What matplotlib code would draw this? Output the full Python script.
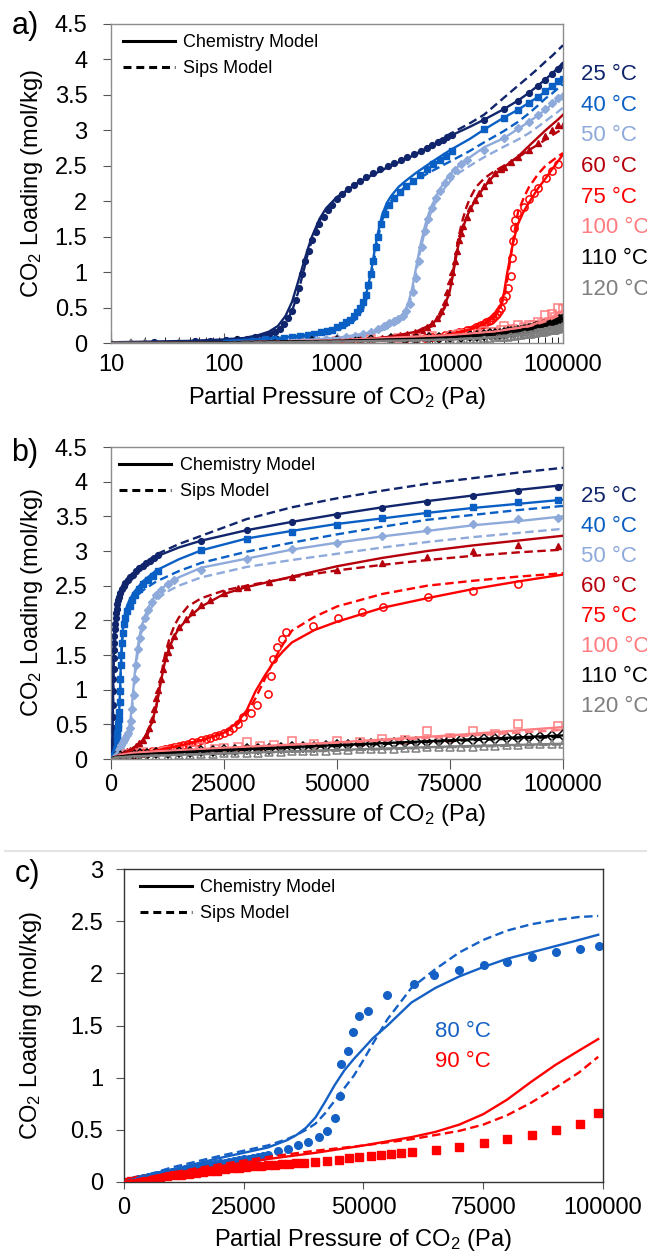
import matplotlib
matplotlib.use("Agg")
import matplotlib.pyplot as plt
from matplotlib.lines import Line2D
from matplotlib.ticker import FixedLocator, FuncFormatter, LogLocator, NullFormatter

plt.rcParams['font.family'] = ['Liberation Sans', 'DejaVu Sans']
plt.rcParams['mathtext.default'] = 'regular'

# ---------------- Panels a/b data (CO2 isotherms) ----------------
temps_ab = ['25 °C', '40 °C', '50 °C', '60 °C', '75 °C', '100 °C', '110 °C', '120 °C']
colors_ab = ['#10256b', '#0a5fc4', '#8eaadb', '#b5000c', '#ff0000', '#ff7c80', '#000000', '#7f7f7f']

# 25 C
p25 = [24, 55, 75, 105, 130, 160, 190, 220, 250, 280, 310, 340, 370, 400, 430, 460, 490, 520, 560, 600,
       650, 700, 760, 830, 900, 1000, 1100, 1250, 1400, 1600, 1800, 2100, 2400, 2800, 3200, 3700, 4200,
       4800, 5500, 6200, 7000, 7800, 8600, 9500, 10500, 20000, 30000, 40000, 50000, 60000, 70000, 80000,
       90000, 99000]
q25 = [0.02, 0.03, 0.03, 0.04, 0.05, 0.06, 0.08, 0.1, 0.12, 0.15, 0.2, 0.27, 0.35, 0.45, 0.6, 0.78, 0.98,
       1.15, 1.3, 1.45, 1.57, 1.68, 1.78, 1.87, 1.95, 2.03, 2.1, 2.17, 2.23, 2.29, 2.34, 2.4, 2.45, 2.5,
       2.54, 2.58, 2.62, 2.66, 2.71, 2.75, 2.79, 2.83, 2.86, 2.9, 2.94, 3.15, 3.3, 3.42, 3.52, 3.62, 3.71,
       3.79, 3.87, 3.92]
cp25 = [10, 50, 100, 150, 200, 250, 300, 350, 400, 450, 500, 550, 600, 700, 800, 1000, 1500, 2000, 3000,
        5000, 7000, 10000, 15000, 20000, 30000, 40000, 50000, 60000, 70000, 80000, 90000, 100000]
chem25 = [0.01, 0.03, 0.05, 0.07, 0.11, 0.16, 0.24, 0.38, 0.58, 0.85, 1.1, 1.32, 1.5, 1.75, 1.9, 2.06,
          2.25, 2.36, 2.5, 2.66, 2.78, 2.92, 3.05, 3.15, 3.3, 3.42, 3.53, 3.63, 3.72, 3.8, 3.88, 3.95]
sips25 = [0.0, 0.02, 0.04, 0.06, 0.09, 0.13, 0.19, 0.28, 0.45, 0.7, 0.98, 1.25, 1.45, 1.72, 1.88, 2.05,
          2.25, 2.37, 2.5, 2.67, 2.8, 2.95, 3.1, 3.22, 3.46, 3.63, 3.76, 3.87, 3.97, 4.05, 4.13, 4.2]

# 40 C
p40 = [110, 140, 180, 230, 280, 340, 400, 470, 550, 630, 720, 810, 900, 1000, 1100, 1200, 1300, 1400,
       1500, 1600, 1700, 1800, 1900, 2000, 2100, 2200, 2300, 2450, 2650, 2900, 3200, 3600, 4100, 4700,
       5400, 6200, 7100, 8100, 9200, 10500, 20000, 30000, 40000, 50000, 60000, 70000, 80000, 90000, 99000]
q40 = [0.03, 0.03, 0.04, 0.05, 0.06, 0.07, 0.08, 0.1, 0.11, 0.13, 0.15, 0.17, 0.19, 0.22, 0.25, 0.29,
       0.33, 0.38, 0.44, 0.5, 0.58, 0.68, 0.82, 0.98, 1.15, 1.35, 1.5, 1.68, 1.82, 1.94, 2.04, 2.13, 2.21,
       2.29, 2.37, 2.45, 2.52, 2.58, 2.64, 2.71, 3.02, 3.18, 3.28, 3.38, 3.47, 3.55, 3.63, 3.7, 3.73]
cp40 = [100, 300, 500, 800, 1000, 1300, 1500, 1700, 1850, 2000, 2150, 2300, 2500, 2750, 3000, 3500, 4000,
        5000, 7000, 10000, 15000, 20000, 30000, 40000, 50000, 60000, 70000, 80000, 90000, 100000]
chem40 = [0.03, 0.07, 0.11, 0.17, 0.22, 0.3, 0.4, 0.55, 0.75, 1.0, 1.3, 1.55, 1.8, 1.97, 2.07, 2.2, 2.28,
          2.4, 2.56, 2.72, 2.88, 3.01, 3.18, 3.29, 3.39, 3.47, 3.55, 3.62, 3.68, 3.74]
sips40 = [0.02, 0.05, 0.09, 0.14, 0.18, 0.26, 0.35, 0.48, 0.65, 0.9, 1.2, 1.48, 1.72, 1.9, 2.0, 2.12, 2.2,
          2.3, 2.43, 2.56, 2.71, 2.83, 2.99, 3.12, 3.24, 3.35, 3.45, 3.52, 3.59, 3.65]

# 50 C
p50 = [300, 400, 500, 650, 800, 1000, 1200, 1450, 1700, 2000, 2300, 2600, 2900, 3200, 3500, 3800, 4100,
       4400, 4700, 5000, 5300, 5600, 6000, 6400, 6900, 7500, 8200, 9000, 10000, 11000, 12500, 14000,
       20000, 30000, 40000, 50000, 60000, 70000, 80000, 90000, 99000]
q50 = [0.02, 0.03, 0.03, 0.04, 0.05, 0.07, 0.08, 0.1, 0.13, 0.16, 0.2, 0.24, 0.28, 0.31, 0.34, 0.38, 0.45,
       0.55, 0.72, 0.92, 1.15, 1.35, 1.58, 1.75, 1.9, 2.04, 2.15, 2.26, 2.36, 2.44, 2.52, 2.58, 2.72, 2.89,
       3.03, 3.12, 3.22, 3.3, 3.39, 3.46, 3.48]
cp50 = [300, 1000, 2000, 3000, 3500, 4000, 4300, 4600, 4900, 5200, 5500, 6000, 6500, 7000, 8000, 9000,
        10000, 12000, 15000, 20000, 30000, 40000, 50000, 60000, 70000, 80000, 90000, 100000]
chem50 = [0.02, 0.07, 0.15, 0.25, 0.33, 0.45, 0.58, 0.75, 0.98, 1.2, 1.4, 1.65, 1.83, 1.96, 2.15, 2.28,
          2.38, 2.5, 2.62, 2.76, 2.89, 3.02, 3.12, 3.21, 3.29, 3.37, 3.43, 3.5]
sips50 = [0.02, 0.06, 0.13, 0.22, 0.29, 0.4, 0.52, 0.68, 0.9, 1.12, 1.33, 1.58, 1.76, 1.9, 2.07, 2.19,
          2.28, 2.4, 2.5, 2.62, 2.77, 2.87, 2.96, 3.05, 3.13, 3.2, 3.26, 3.32]

# 60 C
p60 = [600, 800, 1000, 1300, 1600, 2000, 2500, 3000, 3600, 4200, 4900, 5600, 6300, 7000, 7700, 8400, 9000,
       9500, 10000, 10500, 11000, 11500, 12000, 12500, 13000, 14000, 15000, 16500, 18000, 20000, 22000,
       25000, 28000, 30000, 35000, 40000, 50000, 60000, 70000, 80000, 90000, 99000]
q60 = [0.02, 0.03, 0.03, 0.04, 0.05, 0.06, 0.07, 0.09, 0.11, 0.13, 0.15, 0.19, 0.23, 0.28, 0.35, 0.45,
       0.58, 0.72, 0.88, 1.0, 1.15, 1.3, 1.45, 1.55, 1.65, 1.78, 1.9, 2.02, 2.12, 2.22, 2.3, 2.4, 2.46,
       2.48, 2.56, 2.62, 2.72, 2.82, 2.92, 3.0, 3.08, 3.07]
cp60 = [1000, 2000, 3000, 5000, 7000, 8000, 9000, 10000, 10500, 11000, 11500, 12000, 13000, 14000, 15000,
        17000, 20000, 25000, 30000, 40000, 50000, 60000, 70000, 80000, 90000, 100000]
chem60 = [0.03, 0.06, 0.09, 0.16, 0.27, 0.37, 0.52, 0.75, 0.92, 1.1, 1.27, 1.42, 1.62, 1.77, 1.88, 2.03,
          2.2, 2.38, 2.48, 2.63, 2.78, 2.9, 3.0, 3.08, 3.15, 3.22]
sips60 = [0.02, 0.05, 0.08, 0.14, 0.24, 0.34, 0.5, 0.75, 0.95, 1.15, 1.35, 1.52, 1.75, 1.92, 2.04, 2.2,
          2.32, 2.43, 2.5, 2.62, 2.72, 2.8, 2.87, 2.93, 2.98, 3.02]

# 75 C
p75 = [1000, 2000, 3000, 4000, 5000, 6000, 7000, 8000, 9000, 10000, 11000, 12000, 13000, 14000, 15000,
       16000, 17000, 18000, 19000, 20000, 21000, 22000, 23000, 24000, 25000, 26000, 27000, 28000, 29300,
       31000, 32300, 34800, 35300, 35800, 36800, 37800, 38800, 44800, 50300, 55500, 60200, 70100, 80100,
       90100]
q75 = [0.02, 0.03, 0.04, 0.05, 0.06, 0.07, 0.08, 0.09, 0.11, 0.12, 0.13, 0.15, 0.16, 0.18, 0.19, 0.2,
       0.22, 0.24, 0.25, 0.27, 0.29, 0.31, 0.33, 0.35, 0.38, 0.41, 0.45, 0.5, 0.6, 0.66, 0.78, 0.94, 1.2,
       1.44, 1.62, 1.73, 1.83, 1.92, 2.03, 2.12, 2.19, 2.33, 2.43, 2.52]
cp75 = [100, 1000, 3000, 5000, 10000, 15000, 20000, 25000, 28000, 30000, 32000, 34000, 36000, 38000,
        40000, 45000, 50000, 60000, 70000, 80000, 90000, 100000]
chem75 = [0.0, 0.02, 0.04, 0.06, 0.12, 0.19, 0.27, 0.38, 0.53, 0.7, 0.98, 1.2, 1.4, 1.55, 1.68, 1.86,
          1.98, 2.18, 2.32, 2.45, 2.56, 2.66]
sips75 = [0.0, 0.02, 0.04, 0.06, 0.12, 0.19, 0.27, 0.37, 0.5, 0.65, 0.88, 1.15, 1.42, 1.65, 1.85, 2.05,
          2.2, 2.38, 2.5, 2.57, 2.63, 2.68]

# 100 C
p100 = [1000, 2000, 3500, 5000, 7000, 10000, 12000, 15000, 18000, 20000, 23000, 25000, 28000, 30000,
        33000, 36000, 40000, 45000, 50000, 55000, 60000, 65000, 70000, 75000, 80000, 85000, 90000, 99000]
q100 = [0.03, 0.05, 0.07, 0.08, 0.1, 0.1, 0.12, 0.14, 0.13, 0.17, 0.15, 0.16, 0.18, 0.24, 0.19, 0.2, 0.26,
        0.22, 0.26, 0.25, 0.29, 0.27, 0.4, 0.3, 0.41, 0.36, 0.5, 0.48]
cp100 = [10, 100, 1000, 2000, 5000, 10000, 25000, 50000, 75000, 100000]
chem100 = [0.0, 0.01, 0.04, 0.06, 0.09, 0.11, 0.16, 0.24, 0.34, 0.46]
sips100 = [0.0, 0.01, 0.03, 0.05, 0.08, 0.1, 0.15, 0.23, 0.32, 0.42]

# 110 C
p110 = [130, 300, 600, 1000, 1500, 2000, 3000, 4000, 5000, 6500, 8000,
        10000, 12500, 15000, 17500, 20000, 22500, 25000, 27500, 30000, 32500, 35000, 37500, 40000,
        42500, 45000, 47500, 50000, 52500, 55000, 57500, 60000, 62500, 65000, 67500, 70000, 72500,
        75000, 77500, 80000, 82500, 85000, 87500, 90000, 92500, 95000, 97500, 100000]
q110 = [0.01, 0.01, 0.02, 0.03, 0.03, 0.04, 0.05, 0.05, 0.06, 0.07, 0.07,
        0.08, 0.09, 0.1, 0.1, 0.11, 0.12, 0.13, 0.13, 0.14, 0.15, 0.15, 0.16, 0.17,
        0.17, 0.18, 0.19, 0.2, 0.2, 0.21, 0.22, 0.22, 0.23, 0.24, 0.25, 0.25, 0.26,
        0.27, 0.27, 0.28, 0.29, 0.29, 0.3, 0.31, 0.32, 0.32, 0.33, 0.34]
cp110 = [10, 100, 1000, 5000, 10000, 25000, 50000, 75000, 100000]
chem110 = [0.0, 0.01, 0.03, 0.06, 0.08, 0.13, 0.2, 0.27, 0.34]
sips110 = [0.0, 0.01, 0.03, 0.05, 0.07, 0.12, 0.19, 0.26, 0.32]

# 120 C
p120 = [10, 15, 20, 40, 70, 150, 300, 500, 800, 1200, 2000, 3000, 5000, 7000,
        10000, 12500, 15000, 17500, 20000, 22500, 25000, 27500, 30000, 32500, 35000, 37500, 40000,
        42500, 45000, 47500, 50000, 52500, 55000, 57500, 60000, 62500, 65000, 67500, 70000, 72500,
        75000, 77500, 80000, 82500, 85000, 87500, 90000, 92500, 95000, 97500, 100000]
q120 = [0.0, 0.0, 0.0, 0.0, 0.0, 0.01, 0.01, 0.01, 0.02, 0.02, 0.03, 0.03, 0.04, 0.04,
        0.05, 0.05, 0.06, 0.06, 0.07, 0.07, 0.08, 0.08, 0.09, 0.09, 0.1, 0.1, 0.11,
        0.11, 0.12, 0.12, 0.13, 0.13, 0.14, 0.14, 0.15, 0.15, 0.16, 0.16, 0.17, 0.17,
        0.18, 0.18, 0.18, 0.19, 0.19, 0.2, 0.2, 0.21, 0.21, 0.22, 0.22]
cp120 = [10, 100, 1000, 5000, 10000, 25000, 50000, 75000, 100000]
chem120 = [0.0, 0.0, 0.02, 0.04, 0.05, 0.08, 0.13, 0.18, 0.22]
sips120 = [0.0, 0.0, 0.02, 0.03, 0.05, 0.08, 0.12, 0.17, 0.21]

# ---------------- Panel c data ----------------
temps_c = ['80 °C', '90 °C']
colors_c = ['#1460c4', '#ff0000']
p80 = [0, 1000, 2000, 3000, 4000, 5000, 6000, 7000, 8000, 9000, 10000, 11000, 12000, 13000, 14000, 15000,
       16000, 17000, 18000, 19000, 20000, 21000, 22000, 23000, 24000, 25000, 26000, 27000, 28000, 29000,
       30000, 32100, 34200, 36400, 38500, 40700, 42400, 44100, 45000, 45300, 46700, 47800, 49000, 51000,
       55000, 60500, 64800, 70000, 75200, 79900, 85100, 90100, 95300, 99100]
q80 = [0.0, 0.01, 0.02, 0.03, 0.04, 0.05, 0.06, 0.07, 0.08, 0.09, 0.1, 0.1, 0.11, 0.12, 0.13, 0.14, 0.15,
       0.15, 0.16, 0.17, 0.18, 0.18, 0.19, 0.2, 0.21, 0.22, 0.22, 0.23, 0.24, 0.25, 0.26, 0.295, 0.32,
       0.35, 0.385, 0.43, 0.49, 0.61, 0.82, 1.13, 1.26, 1.44, 1.59, 1.64, 1.79, 1.9, 1.98, 2.03, 2.08,
       2.11, 2.16, 2.2, 2.23, 2.26]
cp80 = [0, 10000, 20000, 30000, 34000, 36000, 38000, 40000, 42000, 44000, 46000, 48000, 50000, 52000,
        55000, 60000, 65000, 70000, 75000, 80000, 85000, 90000, 95000, 99000]
chem80 = [0.0, 0.12, 0.23, 0.33, 0.4, 0.45, 0.52, 0.62, 0.77, 0.93, 1.07, 1.18, 1.28, 1.38, 1.5, 1.72,
          1.86, 1.97, 2.06, 2.14, 2.2, 2.26, 2.32, 2.37]
sips80 = [0.0, 0.14, 0.25, 0.35, 0.41, 0.45, 0.5, 0.56, 0.66, 0.78, 0.9, 1.02, 1.17, 1.33, 1.56, 1.86,
          2.04, 2.2, 2.32, 2.41, 2.47, 2.51, 2.54, 2.55]
p90 = [0, 1500, 3000, 4500, 6000, 7500, 9000, 10500, 12000, 13500, 15000, 16500, 18000, 19500, 21000,
       22500, 24000, 25500, 27000, 28500, 30000, 31500, 33000, 34500, 36000, 37500, 39800, 42400, 44800,
       47000, 49100, 51500, 53600, 55800, 57900, 60200, 65100, 70000, 75200, 80000, 85200, 90100, 95100,
       98900]
q90 = [0.0, 0.01, 0.02, 0.03, 0.04, 0.05, 0.055, 0.065, 0.07, 0.08, 0.09, 0.095, 0.105, 0.11, 0.12, 0.13,
       0.135, 0.14, 0.15, 0.155, 0.16, 0.165, 0.17, 0.175, 0.18, 0.185, 0.19, 0.2, 0.215, 0.23, 0.24,
       0.25, 0.26, 0.27, 0.28, 0.29, 0.31, 0.34, 0.375, 0.41, 0.45, 0.5, 0.555, 0.66]
cp90 = [0, 10000, 20000, 30000, 40000, 50000, 55000, 60000, 65000, 70000, 75000, 80000, 85000, 90000,
        95000, 99000]
chem90 = [0.0, 0.08, 0.15, 0.22, 0.28, 0.35, 0.39, 0.43, 0.48, 0.55, 0.65, 0.79, 0.96, 1.12, 1.26, 1.37]
sips90 = [0.0, 0.09, 0.17, 0.24, 0.3, 0.35, 0.38, 0.41, 0.45, 0.49, 0.55, 0.64, 0.76, 0.9, 1.05, 1.2]

# ---------------- assemble ----------------
series_ab = [
    (p25, q25, cp25, chem25, sips25, 'o', True),
    (p40, q40, cp40, chem40, sips40, 's', True),
    (p50, q50, cp50, chem50, sips50, 'D', True),
    (p60, q60, cp60, chem60, sips60, '^', True),
    (p75, q75, cp75, chem75, sips75, 'o', False),
    (p100, q100, cp100, chem100, sips100, 's', False),
    (p110, q110, cp110, chem110, sips110, 'D', False),
    (p120, q120, cp120, chem120, sips120, '^', False),
]
series_c = [
    (p80, q80, cp80, chem80, sips80, 'o'),
    (p90, q90, cp90, chem90, sips90, 's'),
]

W, H = 647, 1256
fig = plt.figure(figsize=(W / 100, H / 100), dpi=100)


def ax_px(l, t, r, b):
    return fig.add_axes([l / W, 1 - b / H, (r - l) / W, (b - t) / H])


FS = 17
DASH = (0, (3.6, 1.9))
legend_handles = [Line2D([], [], color='black', lw=2.2, ls='-'),
                  Line2D([], [], color='black', lw=2.2, ls=(0, (2.6, 1.6)))]
legend_labels = ['Chemistry Model', 'Sips Model']
gfmt = FuncFormatter(lambda v, _: f'{v:g}')
ifmt = FuncFormatter(lambda v, _: f'{v:.0f}')
xlabel = 'Partial Pressure of CO$_2$ (Pa)'
ylabel = 'CO$_2$ Loading (mol/kg)'


def style(ax, spine_color):
    for s in ax.spines.values():
        s.set_color(spine_color)
        s.set_linewidth(1.0)
    ax.tick_params(axis='both', labelsize=FS, colors='#555555', labelcolor='black')


def add_legend(ax, anchor):
    leg = ax.legend(legend_handles, legend_labels, loc='upper left', bbox_to_anchor=anchor,
                    frameon=False, handlelength=2.9, handletextpad=0.45, labelspacing=0.5,
                    borderaxespad=0, prop={'family': ['Liberation Sans Narrow', 'Liberation Sans'],
                                           'size': 13})
    return leg


def draw_ab(ax):
    for (p, q, cp, ch, sp, m, filled), col in zip(series_ab, colors_ab):
        if filled:
            ax.plot(p, q, ls='none', marker=m, ms=4.2 if m != '^' else 4.8, color=col, mec=col, zorder=2)
        else:
            ax.plot(p, q, ls='none', marker=m, ms=5.2 if m == 'o' else 5.4, mfc='none', mec=col, mew=1.1,
                    zorder=2)
        ax.plot(cp, ch, ls='-', color=col, lw=1.7, zorder=3)
        ax.plot(cp, sp, ls=DASH, color=col, lw=1.7, zorder=3)
    ax.set_ylim(0, 4.5)
    ax.yaxis.set_major_locator(FixedLocator([0, 0.5, 1, 1.5, 2, 2.5, 3, 3.5, 4, 4.5]))
    ax.yaxis.set_major_formatter(gfmt)
    ax.tick_params(axis='y', direction='out', length=6, pad=11)
    ax.set_ylabel(ylabel, fontsize=FS)
    ax.yaxis.set_label_coords(-0.147, 0.5)
    ax.set_xlabel(xlabel, fontsize=FS, va='center')
    for i, (t, col) in enumerate(zip(temps_ab, colors_ab)):
        ax.text(1.04, 3.79 - 0.433 * i, t, color=col, fontsize=16, va='center', ha='left',
                transform=ax.get_yaxis_transform(), clip_on=False)


# ----- panel a -----
axa = ax_px(111, 24, 563, 343)
style(axa, '#8c8c8c')
draw_ab(axa)
axa.set_xscale('log')
axa.set_xlim(10, 100000)
axa.xaxis.set_major_locator(FixedLocator([10, 100, 1000, 10000, 100000]))
axa.xaxis.set_major_formatter(ifmt)
axa.xaxis.set_minor_locator(LogLocator(base=10, subs=range(2, 10)))
axa.xaxis.set_minor_formatter(NullFormatter())
axa.tick_params(axis='x', which='major', direction='in', length=7, pad=8)
axa.tick_params(axis='x', which='minor', direction='in', length=4)
axa.xaxis.set_label_coords(0.5, -0.172)
add_legend(axa, (0.01, 0.99))
fig.text(25 / W, 1 - 26 / H, 'a)', fontsize=22, ha='center', va='center')

# ----- panel b -----
axb = ax_px(111, 447, 563, 759)
style(axb, '#8c8c8c')
draw_ab(axb)
axb.set_xlim(0, 100000)
axb.xaxis.set_major_locator(FixedLocator([0, 25000, 50000, 75000, 100000]))
axb.xaxis.set_major_formatter(ifmt)
axb.tick_params(axis='x', direction='out', length=7, pad=4)
axb.xaxis.set_label_coords(0.5, -0.18)
add_legend(axb, (0.002, 0.99))
fig.text(25 / W, 1 - 453 / H, 'b)', fontsize=22, ha='center', va='center')

# separator line
fig.add_artist(Line2D([0.008, 1.0], [1 - 851 / H, 1 - 851 / H], transform=fig.transFigure,
                      color='#e4e4e4', lw=1.6))

# ----- panel c -----
axc = ax_px(124, 869, 603, 1182)
style(axc, '#333333')
for (p, q, cp, ch, sp, m), col in zip(series_c, colors_c):
    axc.plot(p, q, ls='none', marker=m, ms=5.5, color=col, mec=col, zorder=2)
    axc.plot(cp, ch, ls='-', color=col, lw=1.7, zorder=3)
    axc.plot(cp, sp, ls=DASH, color=col, lw=1.7, zorder=3)
axc.set_xlim(0, 100000)
axc.set_ylim(0, 3)
axc.xaxis.set_major_locator(FixedLocator([0, 25000, 50000, 75000, 100000]))
axc.xaxis.set_major_formatter(ifmt)
axc.yaxis.set_major_locator(FixedLocator([0, 0.5, 1, 1.5, 2, 2.5, 3]))
axc.yaxis.set_major_formatter(gfmt)
axc.tick_params(axis='x', direction='out', length=5, pad=6)
axc.tick_params(axis='y', direction='out', length=6, pad=9)
axc.set_xlabel(xlabel, fontsize=FS, va='center')
axc.xaxis.set_label_coords(0.5, -0.185)
axc.set_ylabel(ylabel, fontsize=FS)
axc.yaxis.set_label_coords(-0.166, 0.5)
add_legend(axc, (0.018, 0.99))
for i, (t, col) in enumerate(zip(temps_c, colors_c)):
    axc.text(70700, 1.44 - 0.285 * i, t, color=col, fontsize=16, ha='center', va='center')
fig.text(27 / W, 1 - 874 / H, 'c)', fontsize=22, ha='center', va='center')

fig.savefig('out.png', dpi=100)
